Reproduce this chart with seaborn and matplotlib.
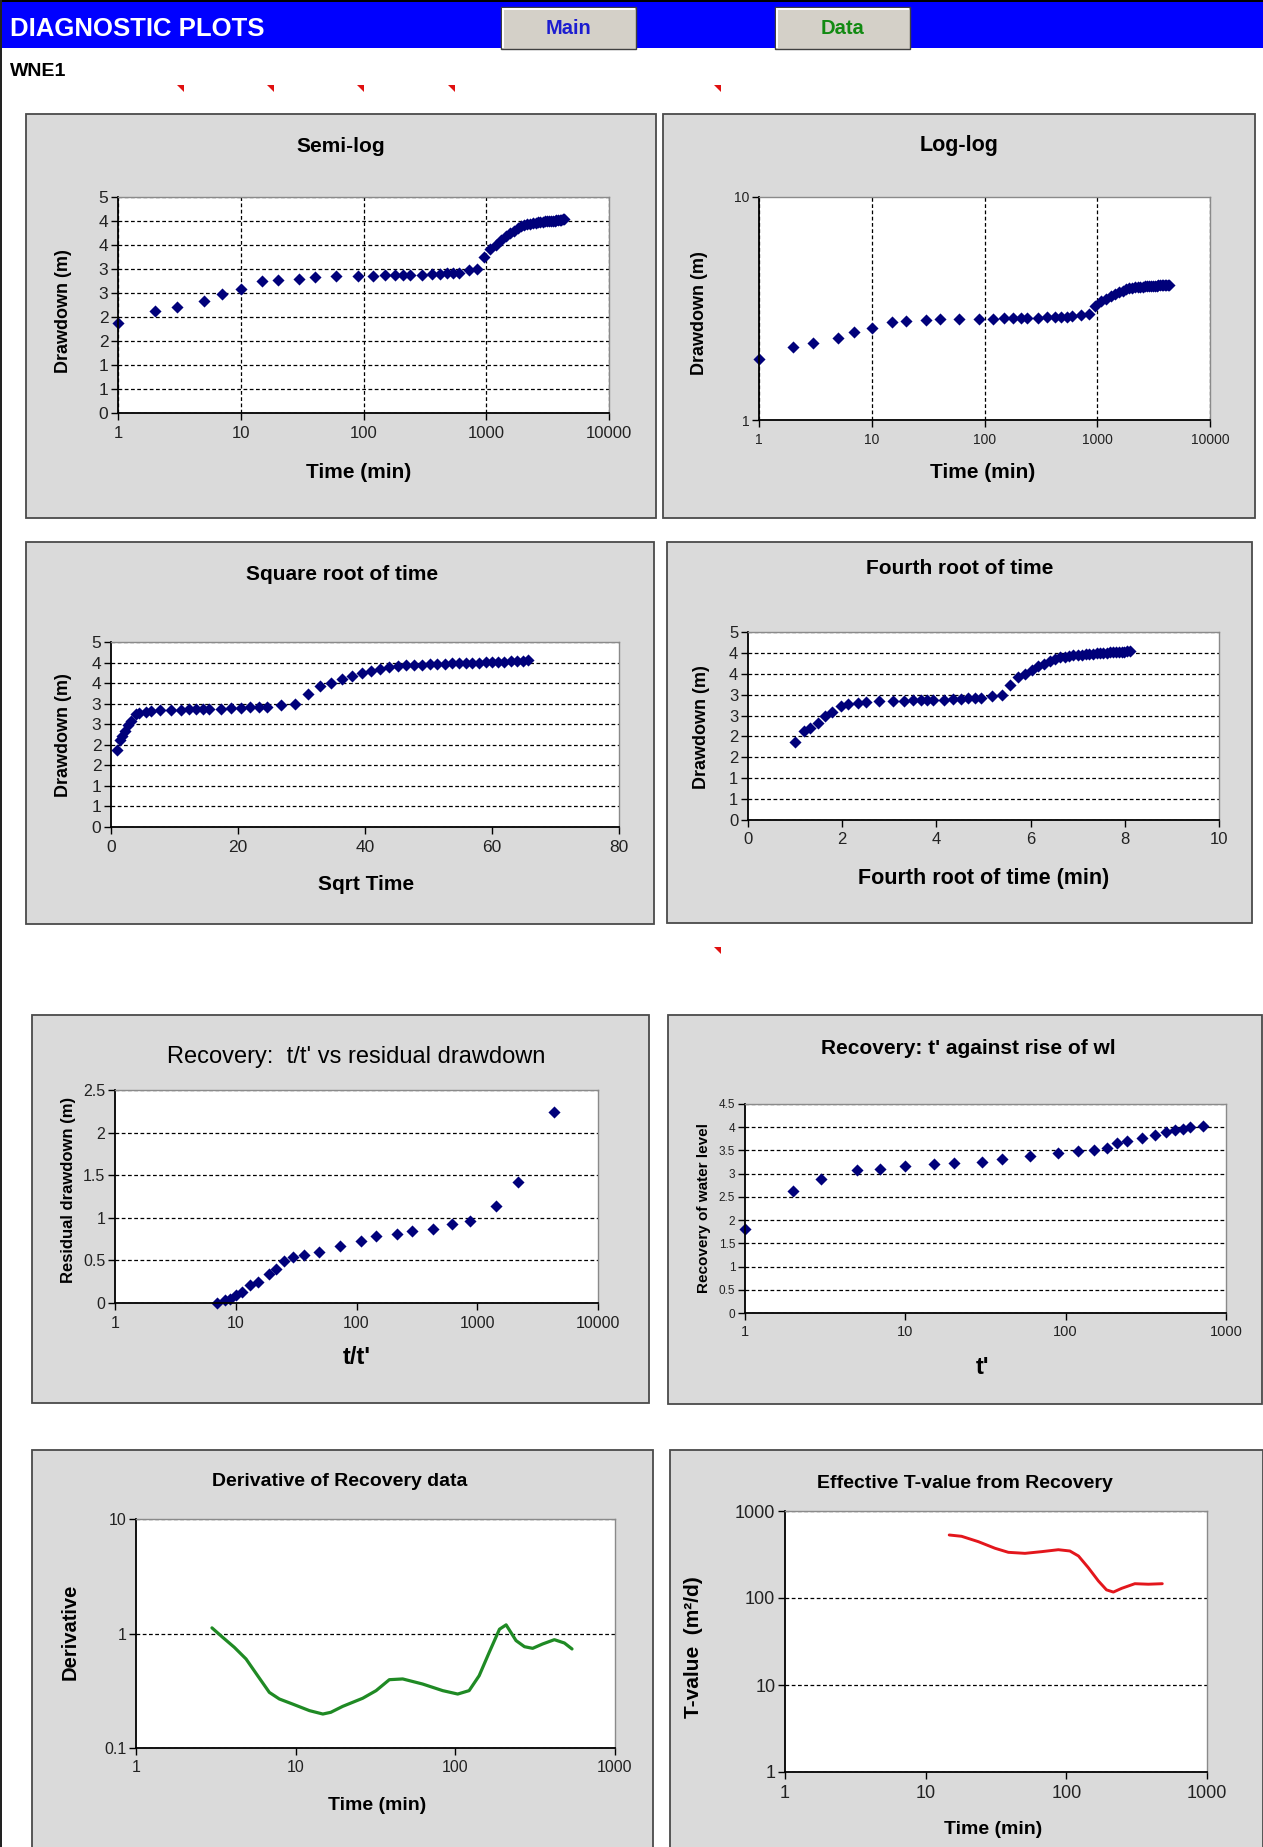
import numpy as np
import pandas as pd
import matplotlib
matplotlib.use('Agg')
import matplotlib.pyplot as plt
from matplotlib.patches import Rectangle, Polygon
from matplotlib.ticker import NullLocator
import seaborn as sns

# ---- pumping test data (read from the sheet) ----
time_min = [1, 2, 3, 5, 7, 10, 15, 20, 30, 40, 60, 90, 120, 150, 180, 210, 240,
            300, 360, 420, 480, 540, 600, 720, 840,
            960, 1080, 1200, 1320, 1440, 1560, 1680, 1800, 1920, 2040, 2160, 2280,
            2400, 2520, 2640, 2760, 2880, 3000, 3120, 3240, 3360, 3480, 3600, 3720,
            3840, 3960, 4080, 4200, 4320]
drawdown = [1.87, 2.12, 2.21, 2.33, 2.48, 2.59, 2.74, 2.77, 2.80, 2.83, 2.85, 2.85,
            2.85, 2.87, 2.87, 2.88, 2.88, 2.88, 2.90, 2.90, 2.91, 2.91, 2.92, 2.97, 2.99,
            3.24, 3.42, 3.50, 3.60, 3.68, 3.74, 3.80, 3.85, 3.89, 3.91, 3.93, 3.94,
            3.95, 3.96, 3.97, 3.97, 3.98, 3.99, 3.99, 4.00, 4.00, 4.01, 4.01, 4.02,
            4.02, 4.03, 4.03, 4.04, 4.05]

# recovery
t_prime = [1, 2, 3, 5, 7, 10, 15, 20, 30, 40, 60, 90, 120, 150, 180, 210, 240,
           300, 360, 420, 480, 540, 600, 720]
rise_wl = [1.81, 2.63, 2.89, 3.08, 3.11, 3.17, 3.20, 3.23, 3.26, 3.32, 3.38, 3.44,
           3.48, 3.51, 3.56, 3.65, 3.71, 3.77, 3.84, 3.89, 3.95, 3.97, 4.00, 4.03]
t_ratio = [4321, 2161, 1441, 865, 618, 433, 289, 217, 145, 109, 73, 49, 37, 29.8,
           25, 21.6, 19, 15.4, 13, 11.3, 10, 9, 8.2, 7]
residual_dd = [2.245, 1.42, 1.14, 0.96, 0.925, 0.874, 0.842, 0.815, 0.784, 0.729,
               0.67, 0.60, 0.568, 0.545, 0.49, 0.40, 0.345, 0.25, 0.21, 0.13, 0.09,
               0.05, 0.03, 0.0]

# derivative of recovery (smoothed curve)
deriv_time = [2.99, 3.49, 4.13, 4.89, 5.78, 6.84, 7.9, 9.57, 12.2, 14.8, 16.6, 19.7,
              26.3, 31.9, 38.6, 46.8, 62.4, 83.3, 103.5, 122, 141, 163, 189, 208,
              223, 240, 271, 305, 352, 417, 482, 538]
deriv_val = [1.12, 0.926, 0.757, 0.599, 0.428, 0.306, 0.268, 0.242, 0.212, 0.198,
             0.205, 0.231, 0.272, 0.317, 0.395, 0.401, 0.362, 0.317, 0.296, 0.317,
             0.428, 0.684, 1.09, 1.19, 1.02, 0.867, 0.767, 0.742, 0.81, 0.883,
             0.826, 0.733]

# effective T-value from recovery
tval_time = [14.7, 18.0, 23.7, 31.1, 38.7, 50.8, 66.8, 87.7, 106, 122, 143, 169,
             193, 216, 247, 307, 383, 481]
tval_val = [530, 512, 444, 373, 335, 326, 341, 359, 347, 304, 224, 157, 124, 117,
            129, 146, 144, 146]

# tick labels (Excel rounds 0.5 steps to integers on the drawdown charts)
dd_ticks = [0, 0.5, 1, 1.5, 2, 2.5, 3, 3.5, 4, 4.5]
dd_ticklabels = ['0', '1', '1', '2', '2', '3', '3', '4', '4', '5']
log4_ticks = [1, 10, 100, 1000, 10000]
log4_labels = ['1', '10', '100', '1000', '10000']
log3_ticks = [1, 10, 100, 1000]
log3_labels = ['1', '10', '100', '1000']
res_ticks = [0, 0.5, 1, 1.5, 2, 2.5]
res_labels = ['0', '0.5', '1', '1.5', '2', '2.5']
rise_ticks = [0, 0.5, 1, 1.5, 2, 2.5, 3, 3.5, 4, 4.5]
rise_labels = ['0', '0.5', '1', '1.5', '2', '2.5', '3', '3.5', '4', '4.5']

W, H = 1263, 1847
NAVY = '#00007a'
PANEL = '#dadada'

sns.set_theme(style='white')
plt.rcParams['font.family'] = ['Liberation Sans', 'DejaVu Sans']

fig = plt.figure(figsize=(W / 100, H / 100), dpi=100)
fig.patch.set_facecolor('white')


def frac_rect(x0, y0, x1, y1):
    return [x0 / W, 1 - y1 / H, (x1 - x0) / W, (y1 - y0) / H]


def box(x0, y0, x1, y1, z=-5, **kw):
    r = Rectangle((x0 / W, 1 - y1 / H), (x1 - x0) / W, (y1 - y0) / H,
                  transform=fig.transFigure, zorder=z, **kw)
    fig.add_artist(r)


def label(x, y, s, size, weight='bold', rotation=0, color='black', ha='center'):
    fig.text(x / W, 1 - y / H, s, ha=ha, va='center', fontsize=size,
             fontweight=weight, rotation=rotation, color=color)


def style(ax, xticks, xlabels, yticks, ylabels, xgrid=False, ygrid=True,
          xsize=11, ysize=11):
    ax.set_facecolor('white')
    ax.set_xticks(xticks, labels=xlabels)
    ax.set_yticks(yticks, labels=ylabels)
    ax.xaxis.set_minor_locator(NullLocator())
    ax.yaxis.set_minor_locator(NullLocator())
    ax.tick_params(axis='x', which='major', direction='out', length=5, width=1,
                   color='black', labelsize=xsize, labelcolor='#222222', pad=4,
                   bottom=True)
    ax.tick_params(axis='y', which='major', direction='out', length=5, width=1,
                   color='black', labelsize=ysize, labelcolor='#222222', pad=2,
                   left=True)
    for side in ['top', 'right']:
        ax.spines[side].set_color('#8a8a8a')
        ax.spines[side].set_linewidth(1)
    for side in ['left', 'bottom']:
        ax.spines[side].set_color('black')
        ax.spines[side].set_linewidth(1.3)
    ax.grid(False)
    if ygrid:
        ax.yaxis.grid(True, which='major', color='black', linestyle=(0, (3, 2)),
                      linewidth=0.9)
    if xgrid:
        ax.xaxis.grid(True, which='major', color='black', linestyle=(0, (3, 2)),
                      linewidth=0.9)
    ax.set_axisbelow(True)
    ax.set_xlabel('')
    ax.set_ylabel('')
    for c in ax.collections:
        c.set_clip_on(False)


# ---- header ----
box(0, 0, W, 48, facecolor='#0000ff', edgecolor='none')
box(0, 0, W, 2, facecolor='black', edgecolor='none')
box(0, 0, 2, H, facecolor='#222222', edgecolor='none')
label(10, 29, 'DIAGNOSTIC PLOTS', 18.5, color='white', ha='left')
for bx0, bx1, txt, col in [(501, 636, 'Main', '#1c1cd0'), (775, 910, 'Data', '#128a12')]:
    box(bx0, 7, bx1, 49, facecolor='#d4d0c8', edgecolor='#404040', linewidth=1)
    box(bx0 + 1, 8, bx1 - 1, 10, z=-4, facecolor='white', edgecolor='none')
    box(bx0 + 1, 8, bx0 + 3, 48, z=-4, facecolor='white', edgecolor='none')
    label((bx0 + bx1) / 2, 28, txt, 14.5, color=col)
label(10, 72, 'WNE1', 14, ha='left')

for tx, ty in [(180, 88), (270, 88), (360, 88), (451, 88), (717, 88), (717, 950)]:
    tri = Polygon([((tx - 3) / W, 1 - (ty - 3) / H), ((tx + 4) / W, 1 - (ty - 3) / H),
                   ((tx + 4) / W, 1 - (ty + 4) / H)], closed=True,
                  transform=fig.transFigure, facecolor='#e01010', edgecolor='none')
    fig.add_artist(tri)

# ---- chart panels ----
panels = [(26, 114, 656, 518), (663, 114, 1255, 518),
          (26, 542, 654, 924), (667, 542, 1252, 923),
          (32, 1015, 649, 1403), (668, 1015, 1262, 1404),
          (32, 1450, 653, 1860), (670, 1450, 1263, 1860)]
for p in panels:
    box(*p, facecolor=PANEL, edgecolor='#4a4a4a', linewidth=1.3)

mk = dict(marker='D', s=38, color=NAVY, edgecolor=NAVY, linewidth=0, legend=False)
ln = dict(estimator=None, sort=False, solid_joinstyle='round', solid_capstyle='round')

# Semi-log
ax1 = fig.add_axes(frac_rect(118, 197, 609, 413))
sns.scatterplot(x=time_min, y=drawdown, ax=ax1, **mk)
ax1.set_xscale('log')
ax1.set_xlim(1, 10000)
ax1.set_ylim(0, 4.5)
style(ax1, log4_ticks, log4_labels, dd_ticks, dd_ticklabels, xgrid=True,
      xsize=12, ysize=12.5)
label(341, 146, 'Semi-log', 15)
label(359, 472, 'Time (min)', 15)
label(63, 311, 'Drawdown (m)', 13, rotation=90)

# Log-log
ax2 = fig.add_axes(frac_rect(759, 197, 1210, 420))
sns.scatterplot(x=time_min, y=drawdown, ax=ax2, **mk)
ax2.set_xscale('log')
ax2.set_yscale('log')
ax2.set_xlim(1, 10000)
ax2.set_ylim(1, 10)
style(ax2, log4_ticks, log4_labels, [1, 10], ['1', '10'], xgrid=True, ygrid=False,
      xsize=10, ysize=10)
label(959, 146, 'Log-log', 15.5)
label(983, 473, 'Time (min)', 15)
label(700, 313, 'Drawdown (m)', 13, rotation=90)

# Square root of time
ax3 = fig.add_axes(frac_rect(111, 642, 619, 827))
sns.scatterplot(x=np.sqrt(time_min), y=drawdown, ax=ax3, **mk)
ax3.set_xlim(0, 80)
ax3.set_ylim(0, 4.5)
style(ax3, [0, 20, 40, 60, 80], ['0', '20', '40', '60', '80'], dd_ticks,
      dd_ticklabels, xsize=12.5, ysize=12.5)
label(342, 575, 'Square root of time', 15)
label(366, 885, 'Sqrt Time', 15)
label(64, 735, 'Drawdown (m)', 13, rotation=90)

# Fourth root of time
ax4 = fig.add_axes(frac_rect(748, 632, 1219, 820))
sns.scatterplot(x=np.power(time_min, 0.25), y=drawdown, ax=ax4, **mk)
ax4.set_xlim(0, 10)
ax4.set_ylim(0, 4.5)
style(ax4, [0, 2, 4, 6, 8, 10], ['0', '2', '4', '6', '8', '10'], dd_ticks,
      dd_ticklabels, xsize=12, ysize=12)
label(960, 569, 'Fourth root of time', 15)
label(984, 879, 'Fourth root of time (min)', 15.5)
label(702, 727, 'Drawdown (m)', 13, rotation=90)

# Recovery: t/t' vs residual drawdown
ax5 = fig.add_axes(frac_rect(115, 1090, 598, 1303))
sns.scatterplot(x=t_ratio, y=residual_dd, ax=ax5, **mk)
ax5.set_xscale('log')
ax5.set_xlim(1, 10000)
ax5.set_ylim(0, 2.5)
style(ax5, log4_ticks, log4_labels, res_ticks, res_labels, xsize=11.5, ysize=11.5)
label(356, 1057, "Recovery:  t/t' vs residual drawdown", 17, weight='normal')
label(357, 1358, "t/t'", 17)
label(69, 1190, 'Residual drawdown (m)', 12, rotation=90)

# Recovery: t' against rise of water level
ax6 = fig.add_axes(frac_rect(745, 1104, 1226, 1313))
sns.scatterplot(x=t_prime, y=rise_wl, ax=ax6, **mk)
ax6.set_xscale('log')
ax6.set_xlim(1, 1000)
ax6.set_ylim(0, 4.5)
style(ax6, log3_ticks, log3_labels, rise_ticks, rise_labels, xsize=10.5, ysize=8.5)
label(968, 1048, "Recovery: t' against rise of wl", 15)
label(983, 1367, "t'", 17)
label(704, 1208, 'Recovery of water level', 11, rotation=90)

# Derivative of recovery data
ax7 = fig.add_axes(frac_rect(136, 1519, 615, 1748))
sns.lineplot(x=deriv_time, y=deriv_val, ax=ax7, color='#1f8a24', linewidth=2.3, **ln)
ax7.set_xscale('log')
ax7.set_yscale('log')
ax7.set_xlim(1, 1000)
ax7.set_ylim(0.1, 10)
style(ax7, log3_ticks, log3_labels, [0.1, 1, 10], ['0.1', '1', '10'],
      xsize=11.5, ysize=11.5)
label(340, 1482, 'Derivative of Recovery data', 14)
label(377, 1805, 'Time (min)', 14)
label(70, 1632, 'Derivative', 14.5, rotation=90)

# Effective T-value from recovery
ax8 = fig.add_axes(frac_rect(785, 1511, 1207, 1772))
sns.lineplot(x=tval_time, y=tval_val, ax=ax8, color='#e3161c', linewidth=2.1, **ln)
ax8.set_xscale('log')
ax8.set_yscale('log')
ax8.set_xlim(1, 1000)
ax8.set_ylim(1, 1000)
style(ax8, log3_ticks, log3_labels, [1, 10, 100, 1000], ['1', '10', '100', '1000'],
      xsize=13, ysize=13)
label(965, 1483, 'Effective T-value from Recovery', 14)
label(993, 1830, 'Time (min)', 14)
label(693, 1647, 'T-value  (m²/d)', 15, rotation=90)

fig.savefig('out.png', dpi=100, facecolor='white')
